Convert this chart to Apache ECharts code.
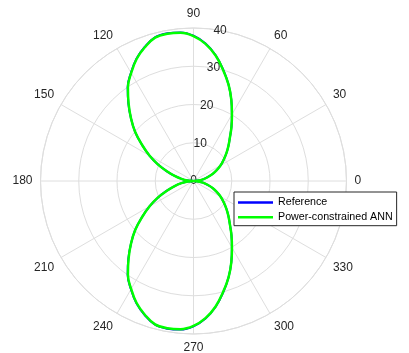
<!DOCTYPE html>
<html>
<head>
<meta charset="utf-8">
<script src="https://cdn.jsdelivr.net/npm/echarts@6/dist/echarts.min.js"></script>
<style>html,body{margin:0;padding:0;background:#fff}#c{width:409px;height:353px}</style>
</head>
<body>
<div id="c"></div>
<script>
// angles in degrees (0..360, step 5)
const angles = [0,5,10,15,20,25,30,35,40,45,50,55,60,65,70,75,80,85,90,95,100,105,110,115,120,125,130,135,140,145,150,155,160,165,170,175,180,
  185,190,195,200,205,210,215,220,225,230,235,240,245,250,255,260,265,270,275,280,285,290,295,300,305,310,315,320,325,330,335,340,345,350,355,360];
// Reference pattern magnitude
const refR = [0,1.2,2.5,3.8,5.3,6.7,8.2,9.6,11.2,12.9,14.8,17.3,20.1,23.4,26.8,30.1,33.4,36.1,38.0,39.0,39.2,38.9,37.3,35.3,32.7,30.0,26.5,23.1,19.9,16.4,13.3,10.3,7.4,5.1,3.2,1.5,0,
  1.5,3.2,5.1,7.4,10.3,13.3,16.4,19.9,23.1,26.5,30.0,32.7,35.3,37.3,38.9,39.2,39.0,38.0,36.1,33.4,30.1,26.8,23.4,20.1,17.3,14.8,12.9,11.2,9.6,8.2,6.7,5.3,3.8,2.5,1.2,0];
// Power-constrained ANN pattern magnitude
const annR = [0,1.2,2.5,3.8,5.3,6.7,8.2,9.6,11.2,12.9,14.8,17.3,20.1,23.4,26.8,30.0,33.3,36.0,37.9,38.9,39.1,38.8,37.2,35.2,32.6,29.9,26.4,23.1,19.9,16.4,13.3,10.3,7.4,5.1,3.2,1.5,0,
  1.5,3.2,5.1,7.4,10.3,13.3,16.4,19.9,23.1,26.4,29.9,32.6,35.2,37.2,38.8,39.1,38.9,37.9,36.0,33.3,30.0,26.8,23.4,20.1,17.3,14.8,12.9,11.2,9.6,8.2,6.7,5.3,3.8,2.5,1.2,0];
const seriesNames = ['Reference','Power-constrained ANN'];

const gridColor = '#dedede';
const textColor = '#262626';
const fontFamily = '"Liberation Sans", Arial, Helvetica, sans-serif';

const chart = echarts.init(document.getElementById('c'), null, {renderer:'canvas'});
chart.setOption({
  animation:false,
  backgroundColor:'#fff',
  textStyle:{fontFamily:fontFamily},
  polar:[
    {center:[193.5,181], radius:153},
    {center:[193.5,181], radius:153}
  ],
  angleAxis:[
    {polarIndex:0, type:'value', min:0, max:360, interval:30, startAngle:0, clockwise:false,
     axisLine:{show:true, lineStyle:{color:gridColor, width:1}},
     axisTick:{show:false},
     axisLabel:{show:true, color:textColor, fontSize:12, fontFamily:fontFamily, margin:8,
       formatter:function(v){return v>=360?'':String(v);}},
     splitLine:{show:true, lineStyle:{color:gridColor, width:1}}},
    {polarIndex:1, type:'value', min:0, max:360, startAngle:80, clockwise:false, show:false}
  ],
  radiusAxis:[
    {polarIndex:0, type:'value', min:0, max:40, interval:10,
     axisLine:{show:false}, axisTick:{show:false}, axisLabel:{show:false},
     splitLine:{show:true, lineStyle:{color:gridColor, width:1}}},
    {polarIndex:1, type:'value', min:0, max:40, interval:10,
     axisLine:{show:false}, axisTick:{show:false}, splitLine:{show:false},
     axisLabel:{show:true, color:textColor, fontSize:12, fontFamily:fontFamily, margin:0, align:'center', verticalAlign:'middle'}}
  ],
  legend:{
    data:seriesNames, orient:'vertical', left:234, top:192,
    padding:[5,4,3,4], itemGap:3.7, itemWidth:35, itemHeight:2.5, icon:'rect',
    backgroundColor:'#fff', borderColor:'#262626', borderWidth:1, borderRadius:0,
    textStyle:{fontSize:10.7, color:'#000', fontFamily:fontFamily}
  },
  series:[
    {name:seriesNames[0], type:'line', coordinateSystem:'polar', polarIndex:0, showSymbol:false, smooth:0.4,
     color:'#0000ff', lineStyle:{color:'#0000ff', width:2},
     data:angles.map((a,i)=>[refR[i], a])},
    {name:seriesNames[1], type:'line', coordinateSystem:'polar', polarIndex:0, showSymbol:false, smooth:0.4,
     color:'#00ff00', lineStyle:{color:'#00ff00', width:2.5},
     data:angles.map((a,i)=>[annR[i], a])}
  ]
});
</script>
</body>
</html>
